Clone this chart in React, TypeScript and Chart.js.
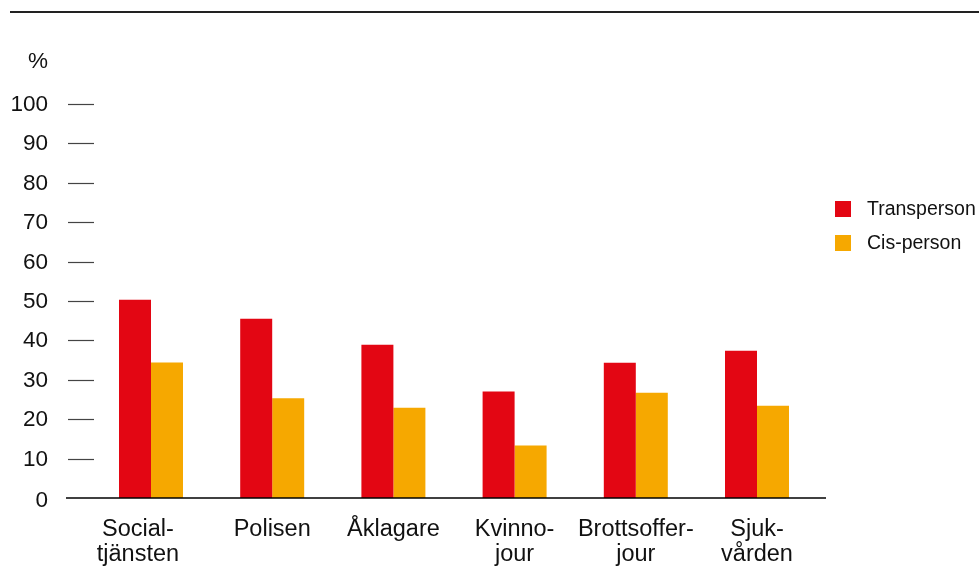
import React, { useEffect, useRef } from "react";
import { Chart, registerables } from "chart.js";

Chart.register(...registerables);

const categories: string[][] = [
  ["Social-    ", "tjänsten    "],
  ["Polisen"],
  ["Åklagare"],
  ["Kvinno-", "jour"],
  ["Brottsoffer-", "jour"],
  ["Sjuk-", "vården"],
];
const seriesNames = ["Transperson", "Cis-person"];
const transperson = [50.3, 45.5, 38.9, 27.0, 34.3, 37.4];
const cisperson = [34.4, 25.3, 22.9, 13.3, 26.7, 23.4];
const yTicks = [0, 10, 20, 30, 40, 50, 60, 70, 80, 90, 100];
const yUnit = "%";

const RED = "#E30613";
const ORANGE = "#F6A800";
const FONT = "'Liberation Sans', Arial, Helvetica, sans-serif";
const TEXT = "#111111";

const decorPlugin = {
  id: "decor",
  beforeDraw(chart: any) {
    const ctx = chart.ctx;
    const y = chart.scales.y;
    ctx.save();
    ctx.fillStyle = "#222222";
    ctx.fillRect(10, 11, 969, 2);
    ctx.font = `22.5px ${FONT}`;
    ctx.textAlign = "right";
    ctx.textBaseline = "middle";
    yTicks.forEach((v) => {
      const py = Math.round(y.getPixelForValue(v)) + 0.5;
      if (v !== 0) {
        ctx.strokeStyle = "#444444";
        ctx.lineWidth = 1.2;
        ctx.beginPath();
        ctx.moveTo(68, py);
        ctx.lineTo(94, py);
        ctx.stroke();
      }
      ctx.fillStyle = TEXT;
      ctx.fillText(String(v), 48, py + (v === 0 ? 2 : 0));
    });
    ctx.fillText(yUnit, 48, 62);
    const colors = [RED, ORANGE];
    ctx.font = `19.5px ${FONT}`;
    ctx.textAlign = "left";
    seriesNames.forEach((name, i) => {
      const cy = 209 + i * 34;
      ctx.fillStyle = colors[i];
      ctx.fillRect(835, cy - 8, 16, 16);
      ctx.fillStyle = TEXT;
      ctx.fillText(name, 867, cy + 1);
    });
    ctx.restore();
  },
  afterDatasetsDraw(chart: any) {
    const ctx = chart.ctx;
    const y = chart.scales.y;
    const py = y.getPixelForValue(0);
    ctx.save();
    ctx.strokeStyle = "#000000";
    ctx.lineWidth = 1.6;
    ctx.beginPath();
    ctx.moveTo(66, py);
    ctx.lineTo(826, py);
    ctx.stroke();
    ctx.restore();
  },
};

export default function App() {
  const ref = useRef<HTMLCanvasElement | null>(null);
  useEffect(() => {
    if (!ref.current) return;
    const chart = new Chart(ref.current, {
      type: "bar",
      data: {
        labels: categories,
        datasets: [
          { label: seriesNames[0], data: transperson, backgroundColor: RED },
          { label: seriesNames[1], data: cisperson, backgroundColor: ORANGE },
        ],
      },
      options: {
        animation: false,
        responsive: true,
        maintainAspectRatio: false,
        layout: { padding: { left: 90.4, right: 161.4, top: 104, bottom: 0 } },
        datasets: {
          bar: { categoryPercentage: 0.528, barPercentage: 1.0 },
        },
        plugins: {
          legend: { display: false },
          tooltip: { enabled: false },
          title: { display: false },
        },
        scales: {
          x: {
            grid: { display: false, drawTicks: false },
            border: { display: false },
            ticks: {
              color: TEXT,
              font: { family: FONT, size: 23.5, lineHeight: 1.07 },
              padding: 19,
              maxRotation: 0,
              autoSkip: false,
            },
            afterFit: (s: any) => {
              s.height = 71;
            },
          },
          y: {
            display: false,
            min: 0,
            max: 100,
          },
        },
      },
      plugins: [decorPlugin],
    });
    return () => chart.destroy();
  }, []);
  return (
    <div style={{ position: "absolute", left: 0, top: 0, width: 979, height: 569 }}>
      <canvas ref={ref} />
    </div>
  );
}
